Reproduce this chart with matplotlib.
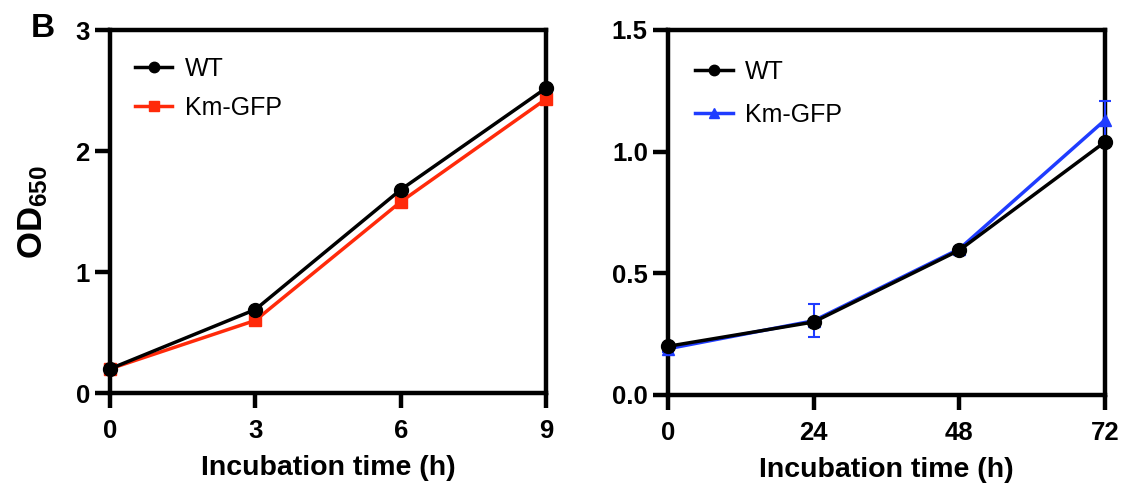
import matplotlib
matplotlib.use("Agg")
import matplotlib.pyplot as plt

plt.rcParams["font.family"] = ["Liberation Sans", "DejaVu Sans"]
plt.rcParams["mathtext.fontset"] = "custom"
plt.rcParams["mathtext.bf"] = "Liberation Sans:bold"
plt.rcParams["mathtext.rm"] = "Liberation Sans"

# Panel 1 (short incubation)
t_short = [0, 3, 6, 9]
wt_short = [0.20, 0.69, 1.68, 2.52]
km_short = [0.20, 0.60, 1.58, 2.43]

# Panel 2 (long incubation)
t_long = [0, 24, 48, 72]
wt_long = [0.20, 0.30, 0.595, 1.04]
km_long = [0.19, 0.305, 0.60, 1.13]
km_long_err = [0.015, 0.068, 0.01, 0.08]

fig = plt.figure(figsize=(11.27, 4.93), dpi=100)
ax1 = fig.add_axes([0.0976, 0.2028, 0.3869, 0.7363])
ax2 = fig.add_axes([0.5927, 0.1988, 0.3878, 0.7404])


def style_axes(ax, xticks, yticks, yfmt):
    for sp in ax.spines.values():
        sp.set_linewidth(3.2)
    ax.set_xticks(xticks)
    ax.set_yticks(yticks)
    ax.set_yticklabels([yfmt.format(v) for v in yticks])
    ax.tick_params(direction="out", length=10.5, width=3.2, labelsize=18.5, pad=4)
    ax.tick_params(axis="x", pad=8)
    for lab in ax.get_xticklabels() + ax.get_yticklabels():
        lab.set_fontweight("bold")
    ax.set_xlabel("Incubation time (h)", fontsize=20.5, fontweight="bold", labelpad=9)


leg_kw = dict(loc="upper left", frameon=False, fontsize=18, handlelength=1.5,
              handletextpad=0.5, borderpad=0, borderaxespad=0, markerscale=0.75)

# Left panel
l_wt, = ax1.plot(t_short, wt_short, color="black", marker="o", markersize=10, lw=2.5,
                 label="WT", clip_on=False, zorder=4)
l_km, = ax1.plot(t_short, km_short, color="#ff2a0a", marker="s", markersize=9, lw=2.5,
                 label="Km-GFP", clip_on=False, zorder=3)
ax1.set_xlim(0, 9)
ax1.set_ylim(0, 3)
style_axes(ax1, t_short, [0, 1, 2, 3], "{:g}")
ax1.set_ylabel(r"$\mathbf{OD_{650}}$", fontsize=25, labelpad=18)
ax1.legend([l_wt, l_km], ["WT", "Km-GFP"], bbox_to_anchor=(0.057, 0.926),
           labelspacing=0.6, **leg_kw)

# Right panel
eb = ax2.errorbar(t_long, km_long, yerr=km_long_err, color="#1f3cff", marker="^",
                  markersize=9, lw=2.5, capsize=4, elinewidth=1.5, capthick=1.5,
                  clip_on=False, zorder=3)
r_wt, = ax2.plot(t_long, wt_long, color="black", marker="o", markersize=10, lw=2.5,
                 clip_on=False, zorder=4)
ax2.set_xlim(0, 72)
ax2.set_ylim(0, 1.5)
style_axes(ax2, t_long, [0.0, 0.5, 1.0, 1.5], "{:.1f}")
ax2.legend([r_wt, eb[0]], ["WT", "Km-GFP"], bbox_to_anchor=(0.062, 0.918),
           labelspacing=0.75, **leg_kw)

fig.text(0.027, 0.925, "B", fontsize=24, fontweight="bold")

fig.savefig("out.png", dpi=100)
